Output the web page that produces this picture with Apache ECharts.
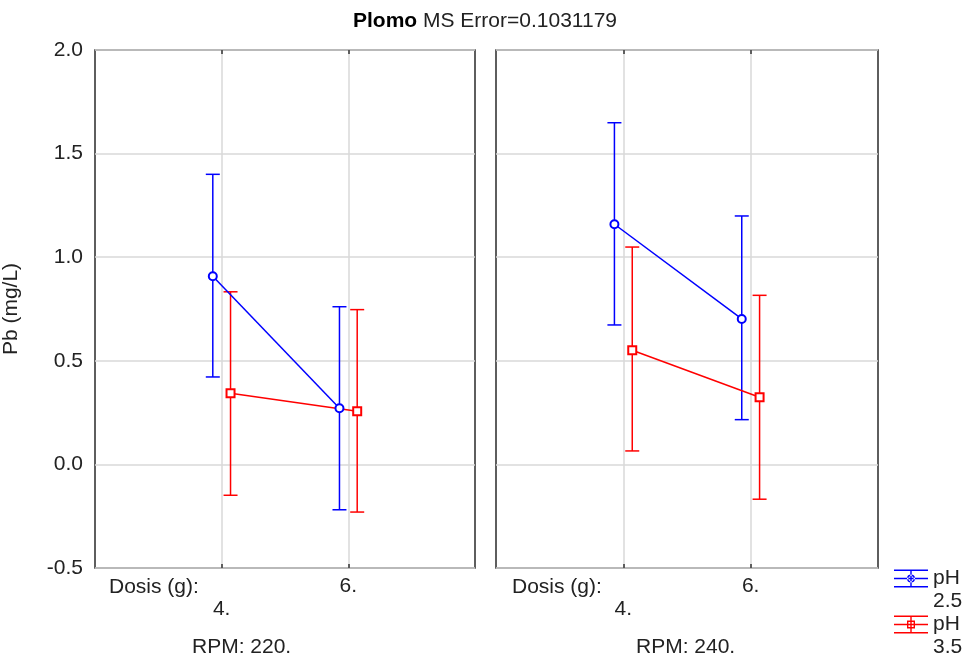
<!DOCTYPE html>
<html>
<head>
<meta charset="utf-8">
<script src="https://cdn.jsdelivr.net/npm/echarts@6/dist/echarts.min.js"></script>
<style>
html,body{margin:0;padding:0;background:#fff;}
#chart{width:970px;height:660px;}
</style>
</head>
<body>
<div id="chart"></div>
<script>
// ---- data ----
const doseLabels = ['4.', '6.'];          // Dosis (g) levels
const doseX = [1, 2];                      // positions of dose levels on the x scale
const panelLabels = ['RPM: 220.', 'RPM: 240.'];
const yTicks = [-0.5, 0.0, 0.5, 1.0, 1.5, 2.0];
const seriesNames = ['pH 2.5', 'pH 3.5'];
// [panel][dose]
const ph25Mean = [[0.908, 0.271], [1.159, 0.702]];
const ph25Low  = [[0.422, -0.219], [0.673, 0.216]];
const ph25High = [[1.400, 0.761], [1.649, 1.199]];
const ph35Mean = [[0.343, 0.256], [0.551, 0.324]];
const ph35Low  = [[-0.149, -0.230], [0.065, -0.168]];
const ph35High = [[0.833, 0.747], [1.049, 0.816]];

// ---- styling ----
const FONT = '"Liberation Sans", Arial, sans-serif';
const FS = 21;
const colors = ['#0000ff', '#ff0000'];
const offsets = [-0.07, 0.07];
const groups = [
  {mean: ph25Mean, low: ph25Low, high: ph25High, symbol: 'emptyCircle'},
  {mean: ph35Mean, low: ph35Low, high: ph35High, symbol: 'emptyRect'}
];

const gridPos = [
  {left: 93, right: 495, top: 50, bottom: 92},
  {left: 496, right: 92, top: 50, bottom: 92}
];

const grids = gridPos.map(g => Object.assign({show: true, borderColor: '#2a2a2a', borderWidth: 1.5, backgroundColor: '#fff'}, g));

const xAxes = [];
const yAxes = [];
gridPos.forEach((g, i) => {
  xAxes.push({
    type: 'value', gridIndex: i, min: 0, max: 3, interval: 1, position: 'bottom',
    axisLine: {show: false, onZero: false},
    axisTick: {show: true, inside: true, length: 4, lineStyle: {color: '#333', width: 1.5},
      customValues: doseX},
    splitLine: {show: true, lineStyle: {color: '#d9d9d9', width: 1.5}},
    axisLabel: {
      show: true, margin: 7, fontSize: FS, fontFamily: FONT, color: '#222', lineHeight: 23,
      customValues: doseX,
      formatter: function (v) {
        const k = doseX.indexOf(v);
        if (k < 0) return '';
        return k === 0 ? '\n' + doseLabels[k] : doseLabels[k];
      }
    }
  });
  yAxes.push({
    type: 'value', gridIndex: i, min: yTicks[0], max: yTicks[yTicks.length - 1], interval: 0.5,
    name: i === 0 ? 'Pb (mg/L)' : '', nameLocation: 'middle', nameGap: 73,
    nameTextStyle: {fontSize: FS, fontFamily: FONT, color: '#222'},
    axisLine: {show: false, onZero: false}, axisTick: {show: false},
    splitLine: {show: true, lineStyle: {color: '#d9d9d9', width: 1.5}},
    axisLabel: {show: i === 0, margin: 12, fontSize: FS, fontFamily: FONT, color: '#222',
      formatter: v => v.toFixed(1)}
  });
});
// top-border ticks
gridPos.forEach((g, i) => {
  xAxes.push({
    type: 'value', gridIndex: i, min: 0, max: 3, interval: 1, position: 'top',
    axisLine: {show: false, onZero: false}, splitLine: {show: false}, axisLabel: {show: false},
    axisTick: {show: true, inside: true, length: 4, lineStyle: {color: '#333', width: 1.5}, customValues: doseX}
  });
});

function makeErrRender(color) {
  return function (params, api) {
    const x = api.value(0), lo = api.value(1), hi = api.value(2);
    const pH = api.coord([x, hi]);
    const pL = api.coord([x, lo]);
    const w = 7;
    const st = {stroke: color, lineWidth: 1.5};
    return {
      type: 'group',
      children: [
        {type: 'line', shape: {x1: pH[0], y1: pH[1], x2: pL[0], y2: pL[1]}, style: st},
        {type: 'line', shape: {x1: pH[0] - w, y1: pH[1], x2: pH[0] + w, y2: pH[1]}, style: st},
        {type: 'line', shape: {x1: pL[0] - w, y1: pL[1], x2: pL[0] + w, y2: pL[1]}, style: st}
      ]
    };
  };
}

const series = [];
groups.forEach((grp, s) => {
  for (let p = 0; p < 2; p++) {
    const errData = doseX.map((x, d) => [x + offsets[s], grp.low[p][d], grp.high[p][d]]);
    series.push({
      type: 'custom', name: seriesNames[s], xAxisIndex: p, yAxisIndex: p,
      renderItem: makeErrRender(colors[s]),
      encode: {x: 0, y: [1, 2]},
      itemStyle: {color: colors[s]},
      data: errData, z: 3, silent: true
    });
  }
});
groups.forEach((grp, s) => {
  for (let p = 0; p < 2; p++) {
    const lineData = doseX.map((x, d) => [x + offsets[s], grp.mean[p][d]]);
    series.push({
      type: 'line', name: seriesNames[s], xAxisIndex: p, yAxisIndex: p,
      data: lineData, symbol: grp.symbol, symbolSize: 8,
      lineStyle: {color: colors[s], width: 1.5},
      itemStyle: {color: colors[s], borderWidth: 1.5},
      z: 4, animation: false
    });
  }
});

// legend icon: error-bar glyph
const ring = (cx, cy, r1, r2, square) => square
  ? `M${cx-r1},${cy-r1}H${cx+r1}V${cy+r1}H${cx-r1}Z M${cx-r2},${cy-r2}V${cy+r2}H${cx+r2}V${cy-r2}Z`
  : `M${cx+r1},${cy}A${r1},${r1} 0 1,0 ${cx-r1},${cy}A${r1},${r1} 0 1,0 ${cx+r1},${cy}Z M${cx+r2},${cy}A${r2},${r2} 0 1,1 ${cx-r2},${cy}A${r2},${r2} 0 1,1 ${cx+r2},${cy}Z`;
const barIcon = (square) => 'path://M0,0H34V1.4H0Z M0,8.3H34V9.7H0Z M0,16.6H34V18H0Z M16.3,0H17.7V18H16.3Z ' + ring(17, 9, 4, 2.6, square);

const legendTops = [544, 590];
const legends = seriesNames.map((n, s) => ({
  orient: 'vertical', left: 894, top: legendTops[s],
  itemWidth: 34, itemHeight: 18, padding: 0,
  selectedMode: false,
  data: [{name: n, icon: barIcon(s === 1), itemStyle: {color: colors[s], borderWidth: 0}}],
  formatter: nm => '\n' + nm.replace(' ', '\n'),
  textStyle: {fontSize: FS, fontFamily: FONT, color: '#222', lineHeight: 23}
}));

const option = {
  animation: false,
  backgroundColor: '#fff',
  title: {
    text: '{b|Plomo} MS Error=0.1031179',
    left: 'center', top: 6,
    textStyle: {fontSize: FS, fontFamily: FONT, color: '#222', fontWeight: 'normal',
      rich: {b: {fontSize: FS, fontFamily: FONT, fontWeight: 'bold', color: '#000'}}}
  },
  grid: grids,
  xAxis: xAxes,
  yAxis: yAxes,
  legend: legends,
  graphic: [
    {type: 'text', left: 109, top: 577, style: {text: 'Dosis (g):', fontSize: FS, fontFamily: FONT, fill: '#222'}},
    {type: 'text', left: 512, top: 577, style: {text: 'Dosis (g):', fontSize: FS, fontFamily: FONT, fill: '#222'}},
    {type: 'text', left: 192, top: 637, style: {text: panelLabels[0], fontSize: FS, fontFamily: FONT, fill: '#222'}},
    {type: 'text', left: 636, top: 637, style: {text: panelLabels[1], fontSize: FS, fontFamily: FONT, fill: '#222'}}
  ],
  series: series
};

const chart = echarts.init(document.getElementById('chart'), null, {renderer: 'canvas'});
chart.setOption(option);
</script>
</body>
</html>
